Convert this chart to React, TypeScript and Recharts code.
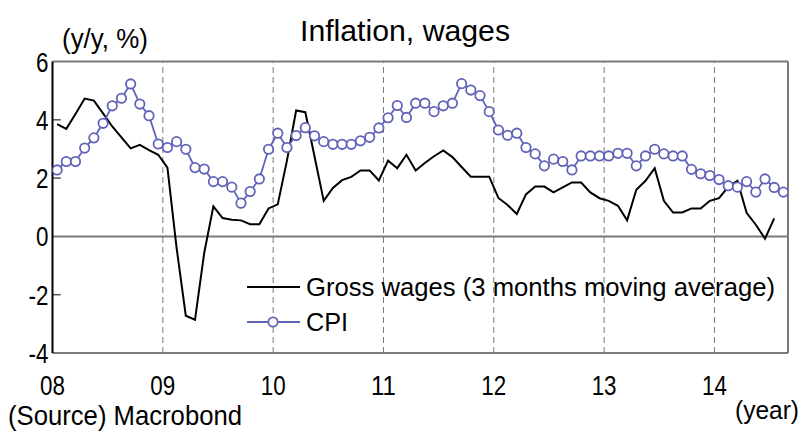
import React from 'react';
import { LineChart, Line, XAxis, YAxis, ReferenceLine, Legend } from 'recharts';

const yearLabels = ['08', '09', '10', '11', '12', '13', '14'];
const yTicks = [-4, -2, 0, 2, 4, 6];

// Gross wages (3 months moving average), Jan 2008 - Jul 2014
const wages = [
  3.85, 3.69, 4.2, 4.73, 4.66, 4.22, 3.77, 3.4, 3.02, 3.14, 2.96, 2.8,
  2.36, -0.4, -2.72, -2.86, -0.57, 1.03, 0.63, 0.57, 0.55, 0.42, 0.42, 0.96,
  1.1, 2.6, 4.32, 4.26, 2.74, 1.22, 1.66, 1.93, 2.04, 2.26, 2.26, 1.92,
  2.6, 2.34, 2.8, 2.26, 2.52, 2.75, 2.95, 2.72, 2.38, 2.05, 2.05, 2.05,
  1.32, 1.08, 0.77, 1.44, 1.71, 1.71, 1.51, 1.68, 1.85, 1.85, 1.51, 1.31,
  1.22, 1.05, 0.55, 1.6, 1.91, 2.34, 1.22, 0.82, 0.82, 0.96, 0.96, 1.22,
  1.31, 1.7, 1.91, 0.81, 0.4, -0.08, 0.62,
];

// CPI, Jan 2008 - Aug 2014
const cpi = [
  2.28, 2.57, 2.57, 3.03, 3.38, 3.88, 4.48, 4.74, 5.23, 4.54, 4.14, 3.17,
  3.05, 3.25, 2.99, 2.36, 2.31, 1.88, 1.88, 1.69, 1.14, 1.54, 1.97, 2.99,
  3.54, 3.05, 3.46, 3.73, 3.45, 3.25, 3.16, 3.16, 3.16, 3.28, 3.4, 3.72,
  4.07, 4.49, 4.08, 4.57, 4.57, 4.28, 4.48, 4.57, 5.24, 5.02, 4.83, 4.28,
  3.65, 3.47, 3.54, 3.05, 2.83, 2.42, 2.65, 2.57, 2.28, 2.76, 2.76, 2.76,
  2.76, 2.85, 2.85, 2.42, 2.76, 2.99, 2.83, 2.76, 2.76, 2.3, 2.15, 2.09,
  1.95, 1.74, 1.69, 1.88, 1.52, 1.97, 1.68, 1.52,
];

const data = cpi.map((v, i) => ({
  m: i + 0.5,
  cpi: v,
  wages: i < wages.length ? wages[i] : null,
}));

const FONT = "'Liberation Sans Narrow','Arial Narrow','Liberation Sans',Arial,sans-serif";
const CPI_COLOR = '#6064B8';
const GRID = '#7a7a7a';
const xTicks = yearLabels.map((_, i) => i * 12);
const TICK_FS = 28;

const narrowLen = (s: string, fs: number) => {
  let w = 0;
  for (const c of s) w += c === '-' ? 0.333 : 0.556;
  return w * fs * 0.8;
};

const XTick = (props: any) => {
  const { x, y, payload } = props;
  const idx = xTicks.indexOf(payload.value);
  const s = yearLabels[idx];
  return (
    <text x={x} y={y + 42} textAnchor="middle" fontFamily={FONT} fontSize={TICK_FS} fill="#000"
      textLength={narrowLen(s, TICK_FS)} lengthAdjust="spacingAndGlyphs">
      {s}
    </text>
  );
};

const YTick = (props: any) => {
  const { x, y, payload } = props;
  const s = String(payload.value);
  return (
    <text x={x - 4} y={y + 10} textAnchor="end" fontFamily={FONT} fontSize={TICK_FS} fill="#000"
      textLength={narrowLen(s, TICK_FS)} lengthAdjust="spacingAndGlyphs">
      {s}
    </text>
  );
};

const legendOrder = ['wages', 'cpi'];

const renderLegend = (props: any) => {
  const payload = [...(props.payload || [])].sort(
    (a: any, b: any) => legendOrder.indexOf(a.dataKey) - legendOrder.indexOf(b.dataKey)
  );
  return (
    <svg width={555} height={80} style={{ overflow: 'visible' }}>
      {payload.map((entry: any, i: number) => {
        const cy = 22 + i * 35;
        const isCpi = entry.dataKey === 'cpi';
        return (
          <g key={i}>
            <line x1={7} x2={60} y1={cy} y2={cy} stroke={entry.color} strokeWidth={2} />
            {isCpi && <circle cx={33} cy={cy} r={4.7} fill="#fff" stroke={entry.color} strokeWidth={1.8} />}
            <text
              x={66}
              y={cy + 9}
              fontFamily={FONT}
              fontSize={25.5}
              fill="#000"
              textLength={isCpi ? 42 : 469}
              lengthAdjust="spacingAndGlyphs"
            >
              {entry.value}
            </text>
          </g>
        );
      })}
    </svg>
  );
};

export default function App() {
  return (
    <div style={{ position: 'absolute', left: 0, top: 0, width: 802, height: 434, background: '#fff' }}>
      <LineChart
        width={802}
        height={434}
        data={data}
        margin={{ top: 61.5, right: 14, left: 0, bottom: 51 }}
      >
        <XAxis
          type="number"
          dataKey="m"
          domain={[0, 80]}
          ticks={xTicks}
          allowDataOverflow
          tickLine={false}
          tickSize={0}
          tickMargin={0}
          axisLine={{ stroke: GRID, strokeWidth: 2 }}
          tick={<XTick />}
          height={30}
          interval={0}
        />
        <YAxis
          type="number"
          domain={[-4, 6]}
          ticks={yTicks}
          tickLine={false}
          tickSize={0}
          tickMargin={0}
          axisLine={{ stroke: '#000', strokeWidth: 2 }}
          tick={<YTick />}
          width={52.5}
          interval={0}
        />
        {xTicks.slice(1).map((t) => (
          <ReferenceLine key={'v' + t} x={t} stroke={GRID} strokeWidth={1} strokeDasharray="6 4" />
        ))}
        <ReferenceLine y={0} stroke={GRID} strokeWidth={2} />
        <ReferenceLine y={6} stroke={GRID} strokeWidth={2} />
        <ReferenceLine x={80} stroke={GRID} strokeWidth={2} />
        {[4, 2, -2].map((v) => (
          <ReferenceLine key={'t' + v} segment={[{ x: 0, y: v }, { x: 0.9, y: v }]} stroke="#555" strokeWidth={1.5} />
        ))}
        <Legend
          layout="vertical"
          align="center"
          verticalAlign="middle"
          content={renderLegend}
          wrapperStyle={{ position: 'absolute', left: 240, top: 265, width: 555, height: 80 }}
        />
        <Line
          type="linear"
          dataKey="wages"
          name="Gross wages (3 months moving average)"
          stroke="#000"
          strokeWidth={2}
          dot={false}
          isAnimationActive={false}
        />
        <Line
          type="linear"
          dataKey="cpi"
          name="CPI"
          stroke={CPI_COLOR}
          strokeWidth={1.8}
          dot={{ r: 4.7, fill: '#fff', stroke: CPI_COLOR, strokeWidth: 1.8 }}
          isAnimationActive={false}
        />
      </LineChart>
      <svg
        width={802}
        height={434}
        style={{ position: 'absolute', left: 0, top: 0, pointerEvents: 'none' }}
      >
        <text x={405} y={41} textAnchor="middle" fontFamily={FONT} fontSize={30} fill="#000" textLength={210} lengthAdjust="spacingAndGlyphs">
          Inflation, wages
        </text>
        <text x={62} y={48} fontFamily={FONT} fontSize={28} fill="#000" textLength={86} lengthAdjust="spacingAndGlyphs">
          (y/y, %)
        </text>
        <text x={8} y={425} fontFamily={FONT} fontSize={28} fill="#000" textLength={234} lengthAdjust="spacingAndGlyphs">
          (Source) Macrobond
        </text>
        <text x={735} y={419} fontFamily={FONT} fontSize={25} fill="#000" textLength={64} lengthAdjust="spacingAndGlyphs">
          (year)
        </text>
      </svg>
    </div>
  );
}
